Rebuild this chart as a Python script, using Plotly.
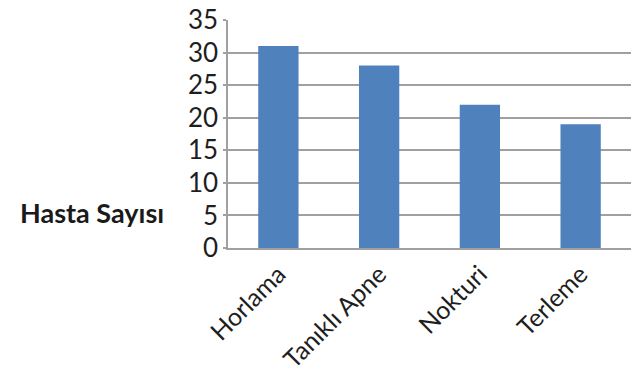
import plotly.graph_objects as go

categories = ["Horlama", "Tanıklı Apne", "Nokturi", "Terleme"]
values = [31, 28, 22, 19]
y_ticks = [0, 5, 10, 15, 20, 25, 30, 35]
y_title = "Hasta Sayısı"

fig = go.Figure(go.Bar(x=categories, y=values, marker=dict(color="#4F81BD", line=dict(width=0))))

W, H = 635, 378
ml, mr, mt, mb = 228, 4, 20, 130
pw = W - ml - mr
ph = H - mt - mb

fig.update_layout(
    width=W, height=H,
    margin=dict(l=ml, r=mr, t=mt, b=mb, pad=0, autoexpand=False),
    paper_bgcolor="white", plot_bgcolor="white",
    bargap=0.6,
    showlegend=False,
    font=dict(family="Lato", color="#1e1e1e"),
)
fig.update_yaxes(
    range=[0, 35], tickvals=y_ticks, showgrid=True, gridcolor="#a0a0a0", gridwidth=1.5,
    showline=True, linecolor="#a0a0a0", linewidth=1.5,
    ticks="outside", ticklen=3, tickcolor="#a0a0a0", tickwidth=1.5,
    tickfont=dict(size=26, family="Lato", color="#1e1e1e"), zeroline=False,
    automargin=False,
)
fig.update_xaxes(
    showline=True, linecolor="#a0a0a0", linewidth=1.5, showgrid=False,
    tickangle=-45, tickfont=dict(size=25, family="Lato", color="#1e1e1e"),
    ticks="", automargin=False,
)
fig.add_annotation(
    text=y_title, xref="paper", yref="paper",
    x=(166 - ml) / pw, y=(248 - 212) / ph, xanchor="right", yanchor="middle",
    showarrow=False, font=dict(size=27, family="Lato", color="#1a1a1a", weight="bold"),
)

fig.write_html("out.html")
